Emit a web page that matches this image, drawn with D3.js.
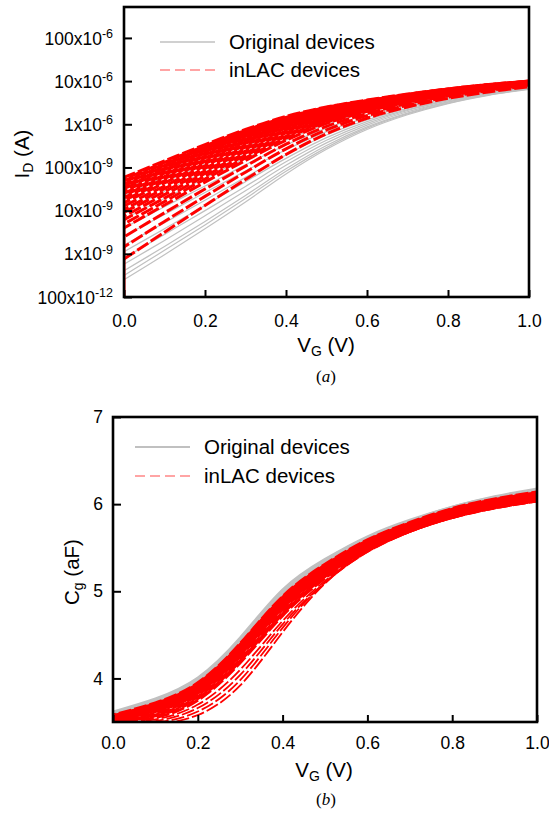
<!DOCTYPE html>
<html>
<head>
<meta charset="utf-8">
<script src="https://cdn.jsdelivr.net/npm/d3@7/dist/d3.min.js"></script>
<style>
  body { margin: 0; background: #fff; }
  text { font-family: "Liberation Sans", Arial, Helvetica, sans-serif; fill: #000; }
</style>
</head>
<body>
<svg id="fig" width="549" height="814"></svg>
<script>
// Gate-voltage sweep shared by every device trace
const vg = [0.0, 0.1, 0.2, 0.3, 0.4, 0.5, 0.6, 0.7, 0.8, 0.9, 1.0];

// (a) Drain current, stored as log10(I_D / A), one row per device
const idOriginalLog = [
  [-9.60, -9.02, -8.42, -7.80, -7.15, -6.58, -6.12, -5.78, -5.52, -5.33, -5.19],
  [-9.50, -8.92, -8.33, -7.72, -7.09, -6.54, -6.09, -5.76, -5.51, -5.32, -5.18],
  [-9.39, -8.83, -8.25, -7.65, -7.03, -6.49, -6.06, -5.74, -5.49, -5.31, -5.18],
  [-9.24, -8.69, -8.12, -7.54, -6.95, -6.43, -6.02, -5.71, -5.48, -5.30, -5.17],
  [-9.10, -8.55, -8.00, -7.44, -6.87, -6.37, -5.98, -5.68, -5.46, -5.29, -5.16],
  [-8.95, -8.42, -7.88, -7.33, -6.79, -6.31, -5.94, -5.66, -5.44, -5.28, -5.16],
  [-8.80, -8.28, -7.76, -7.23, -6.71, -6.25, -5.90, -5.63, -5.42, -5.27, -5.15],
  [-8.59, -8.09, -7.58, -7.08, -6.59, -6.17, -5.84, -5.59, -5.40, -5.25, -5.14],
  [-8.40, -7.91, -7.43, -6.94, -6.48, -6.09, -5.78, -5.55, -5.37, -5.23, -5.13],
  [-8.19, -7.72, -7.25, -6.79, -6.37, -6.00, -5.72, -5.51, -5.35, -5.22, -5.12],
  [-8.00, -7.55, -7.10, -6.66, -6.26, -5.93, -5.67, -5.48, -5.32, -5.20, -5.11],
  [-7.79, -7.35, -6.92, -6.51, -6.14, -5.84, -5.61, -5.44, -5.30, -5.18, -5.10],
  [-7.65, -7.22, -6.80, -6.40, -6.06, -5.78, -5.57, -5.41, -5.28, -5.17, -5.09],
  [-7.50, -7.08, -6.68, -6.30, -5.98, -5.72, -5.53, -5.38, -5.26, -5.16, -5.08]
];
const idInlacLog = [
  [-9.12, -8.50, -7.88, -7.28, -6.70, -6.22, -5.86, -5.60, -5.40, -5.25, -5.13],
  [-8.84, -8.25, -7.67, -7.11, -6.57, -6.13, -5.80, -5.56, -5.37, -5.22, -5.11],
  [-8.61, -8.05, -7.50, -6.97, -6.46, -6.05, -5.75, -5.52, -5.34, -5.20, -5.09],
  [-8.40, -7.87, -7.34, -6.84, -6.37, -5.98, -5.70, -5.49, -5.32, -5.19, -5.08],
  [-8.31, -7.79, -7.27, -6.78, -6.32, -5.95, -5.68, -5.47, -5.31, -5.18, -5.07],
  [-8.21, -7.71, -7.20, -6.72, -6.28, -5.92, -5.66, -5.46, -5.29, -5.17, -5.07],
  [-8.13, -7.63, -7.14, -6.67, -6.24, -5.89, -5.64, -5.44, -5.28, -5.16, -5.06],
  [-8.04, -7.56, -7.08, -6.62, -6.20, -5.87, -5.62, -5.43, -5.27, -5.15, -5.06],
  [-7.97, -7.49, -7.02, -6.57, -6.16, -5.84, -5.60, -5.42, -5.27, -5.15, -5.05],
  [-7.89, -7.43, -6.96, -6.53, -6.13, -5.82, -5.59, -5.41, -5.26, -5.14, -5.05],
  [-7.82, -7.36, -6.91, -6.48, -6.09, -5.79, -5.57, -5.39, -5.25, -5.13, -5.04],
  [-7.76, -7.31, -6.86, -6.44, -6.07, -5.77, -5.56, -5.38, -5.24, -5.13, -5.04],
  [-7.70, -7.26, -6.82, -6.41, -6.04, -5.76, -5.55, -5.38, -5.24, -5.12, -5.03],
  [-7.65, -7.21, -6.78, -6.38, -6.01, -5.74, -5.53, -5.37, -5.23, -5.12, -5.03],
  [-7.60, -7.17, -6.74, -6.35, -5.99, -5.72, -5.52, -5.36, -5.22, -5.11, -5.03],
  [-7.55, -7.13, -6.71, -6.32, -5.97, -5.71, -5.51, -5.35, -5.22, -5.11, -5.02],
  [-7.49, -7.08, -6.67, -6.28, -5.94, -5.69, -5.50, -5.34, -5.21, -5.10, -5.02],
  [-7.46, -7.05, -6.64, -6.26, -5.93, -5.67, -5.49, -5.34, -5.21, -5.10, -5.02],
  [-7.42, -7.02, -6.61, -6.24, -5.91, -5.66, -5.48, -5.33, -5.20, -5.10, -5.01],
  [-7.38, -6.98, -6.58, -6.21, -5.89, -5.65, -5.47, -5.32, -5.20, -5.09, -5.01],
  [-7.34, -6.95, -6.55, -6.19, -5.87, -5.64, -5.47, -5.32, -5.19, -5.09, -5.01],
  [-7.31, -6.92, -6.53, -6.17, -5.86, -5.62, -5.46, -5.31, -5.19, -5.09, -5.01],
  [-7.27, -6.88, -6.50, -6.14, -5.84, -5.61, -5.45, -5.31, -5.18, -5.08, -5.00],
  [-7.23, -6.85, -6.47, -6.12, -5.82, -5.60, -5.44, -5.30, -5.18, -5.08, -5.00]
];
const idFloor = 1e-10;   // current floor of the sweep at V_G = 0

// (b) Gate capacitance in aF, one row per device
const cgOriginal = [
  [3.58, 3.71, 3.93, 4.35, 4.89, 5.28, 5.57, 5.78, 5.94, 6.05, 6.14],
  [3.59, 3.72, 3.95, 4.37, 4.91, 5.30, 5.58, 5.79, 5.94, 6.06, 6.15],
  [3.59, 3.73, 3.96, 4.39, 4.93, 5.31, 5.59, 5.79, 5.95, 6.06, 6.15],
  [3.60, 3.74, 3.97, 4.41, 4.95, 5.32, 5.60, 5.80, 5.95, 6.07, 6.16],
  [3.60, 3.74, 3.98, 4.42, 4.96, 5.33, 5.61, 5.80, 5.96, 6.07, 6.16],
  [3.61, 3.75, 3.99, 4.44, 4.98, 5.35, 5.62, 5.81, 5.96, 6.08, 6.17],
  [3.61, 3.76, 4.00, 4.45, 5.00, 5.36, 5.62, 5.81, 5.97, 6.08, 6.17],
  [3.62, 3.77, 4.01, 4.47, 5.02, 5.37, 5.63, 5.82, 5.97, 6.09, 6.18]
];
const cgInlac = [
  [3.42, 3.47, 3.58, 3.92, 4.53, 5.09, 5.46, 5.69, 5.84, 5.95, 6.03],
  [3.45, 3.49, 3.62, 3.98, 4.58, 5.10, 5.45, 5.68, 5.84, 5.95, 6.03],
  [3.46, 3.51, 3.66, 4.04, 4.62, 5.10, 5.45, 5.68, 5.84, 5.96, 6.04],
  [3.48, 3.53, 3.70, 4.10, 4.66, 5.12, 5.46, 5.68, 5.85, 5.96, 6.04],
  [3.50, 3.55, 3.75, 4.18, 4.72, 5.15, 5.47, 5.69, 5.85, 5.96, 6.04],
  [3.51, 3.57, 3.77, 4.20, 4.74, 5.17, 5.48, 5.70, 5.86, 5.97, 6.05],
  [3.52, 3.58, 3.79, 4.22, 4.76, 5.18, 5.49, 5.71, 5.87, 5.98, 6.06],
  [3.52, 3.60, 3.81, 4.25, 4.79, 5.20, 5.51, 5.72, 5.88, 5.99, 6.07],
  [3.53, 3.62, 3.83, 4.27, 4.81, 5.21, 5.52, 5.73, 5.89, 6.00, 6.08],
  [3.54, 3.63, 3.84, 4.28, 4.82, 5.22, 5.52, 5.73, 5.89, 6.00, 6.08],
  [3.54, 3.64, 3.85, 4.29, 4.83, 5.23, 5.53, 5.74, 5.90, 6.01, 6.09],
  [3.55, 3.65, 3.87, 4.31, 4.85, 5.25, 5.54, 5.75, 5.91, 6.02, 6.10],
  [3.55, 3.66, 3.88, 4.32, 4.86, 5.25, 5.54, 5.75, 5.91, 6.02, 6.10],
  [3.56, 3.67, 3.89, 4.33, 4.87, 5.26, 5.55, 5.76, 5.92, 6.03, 6.11],
  [3.56, 3.68, 3.90, 4.35, 4.89, 5.27, 5.56, 5.76, 5.92, 6.03, 6.11],
  [3.56, 3.69, 3.91, 4.36, 4.90, 5.28, 5.57, 5.77, 5.93, 6.04, 6.12],
  [3.57, 3.70, 3.93, 4.38, 4.92, 5.29, 5.58, 5.78, 5.94, 6.05, 6.13],
  [3.57, 3.71, 3.94, 4.39, 4.93, 5.30, 5.58, 5.78, 5.94, 6.05, 6.13],
  [3.58, 3.72, 3.95, 4.40, 4.94, 5.31, 5.59, 5.79, 5.95, 6.06, 6.14]
];

// Axis ticks and labels
const vgTicks = [0, 0.2, 0.4, 0.6, 0.8, 1.0];
const idTicks = [1e-10, 1e-9, 1e-8, 1e-7, 1e-6, 1e-5, 1e-4];
const idTickMantissa = ["100x10", "1x10", "10x10", "100x10", "1x10", "10x10", "100x10"];
const idTickExponent = ["-12", "-9", "-9", "-9", "-6", "-6", "-6"];
const cgTicks = [4, 5, 6, 7];
const seriesNames = ["Original devices", "inLAC devices"];

const GRAY = "#c0c0c0";
const RED = "#ff0000";
const SERIF = "'Liberation Serif', 'Times New Roman', serif";

const svg = d3.select("#fig");

function frame(g, x, y) {
  const [x0, x1] = x.range();
  const [y0, y1] = y.range();
  g.append("rect")
    .attr("x", x0).attr("y", y1)
    .attr("width", x1 - x0).attr("height", y0 - y1)
    .attr("fill", "none").attr("stroke", "#000").attr("stroke-width", 2.6);
}

function xAxis(g, x, y, labelY) {
  const ax = d3.axisBottom(x).tickValues(vgTicks).tickSize(-7).tickSizeOuter(0)
    .tickPadding(0).tickFormat(d3.format(".1f"));
  const a = g.append("g").attr("transform", `translate(0,${y.range()[0]})`).call(ax);
  a.select(".domain").remove();
  a.selectAll(".tick line").attr("stroke", "#000").attr("stroke-width", 2);
  a.selectAll(".tick text").attr("font-size", 17.5).attr("dy", null)
    .attr("y", labelY - y.range()[0]).attr("fill", "#000");
}

function clipFor(id, x, y) {
  const [x0, x1] = x.range();
  const [y0, y1] = y.range();
  svg.append("defs").append("clipPath").attr("id", id)
    .append("rect").attr("x", x0).attr("y", y1).attr("width", x1 - x0).attr("height", y0 - y1);
}

function legend(g, x0, yLine1, yLine2, grayW) {
  g.append("line").attr("x1", x0).attr("x2", x0 + 55).attr("y1", yLine1).attr("y2", yLine1)
    .attr("stroke", GRAY).attr("stroke-width", grayW);
  g.append("line").attr("x1", x0).attr("x2", x0 + 55).attr("y1", yLine2).attr("y2", yLine2)
    .attr("stroke", "#ff4a4a").attr("stroke-width", 1.2).attr("stroke-dasharray", "10,5");
  g.append("text").attr("x", x0 + 69).attr("y", yLine1 + 7).attr("font-size", 20.5).text(seriesNames[0]);
  g.append("text").attr("x", x0 + 69).attr("y", yLine2 + 7).attr("font-size", 20.5).text(seriesNames[1]);
}

function italicTag(g, cx, y, letter) {
  const t = g.append("text").attr("x", cx).attr("y", y).attr("text-anchor", "middle")
    .style("font-family", SERIF).attr("font-size", 17);
  t.append("tspan").text("(");
  t.append("tspan").style("font-style", "italic").text(letter);
  t.append("tspan").text(")");
}

// ---------- (a) I_D - V_G, log scale ----------
{
  const x = d3.scaleLinear().domain([0, 1]).range([124, 529]);
  const y = d3.scaleLog().domain([1e-10, 5.2e-4]).range([297, 7]);
  const g = svg.append("g");
  clipFor("clipA", x, y);

  const line = d3.line()
    .x((d, i) => x(vg[i]))
    .y(d => y(Math.pow(10, d)))
    .curve(d3.curveCatmullRom.alpha(0.5));

  const plot = g.append("g").attr("clip-path", "url(#clipA)");
  plot.selectAll("path.orig").data(idOriginalLog).join("path")
    .attr("class", "orig").attr("d", line)
    .attr("fill", "none").attr("stroke", GRAY).attr("stroke-width", 1.2);
  plot.selectAll("path.inlac").data(idInlacLog).join("path")
    .attr("class", "inlac").attr("d", line)
    .attr("fill", "none").attr("stroke", RED).attr("stroke-width", 3)
    .attr("stroke-dasharray", "13,3")
    .attr("stroke-dashoffset", (d, i) => (i * 7) % 16);
  // inLAC sweeps rise from the floor at V_G = 0
  const topStart = d3.max(idInlacLog, r => r[0]);
  plot.append("line")
    .attr("x1", x(vg[0])).attr("x2", x(vg[0]))
    .attr("y1", y(idFloor)).attr("y2", y(Math.pow(10, topStart)))
    .attr("stroke", RED).attr("stroke-width", 3);

  frame(g, x, y);

  // y axis with inward ticks and power-of-ten labels
  const ay = d3.axisLeft(y).tickValues(idTicks).tickSize(-8).tickSizeOuter(0).tickPadding(0);
  const a = g.append("g").attr("transform", `translate(${x.range()[0]},0)`).call(ay);
  a.select(".domain").remove();
  a.selectAll(".tick line").attr("stroke", "#000").attr("stroke-width", 2);
  a.selectAll(".tick text").each(function (d, i) {
    const t = d3.select(this);
    t.text(null).attr("x", -11).attr("dy", "0.35em").attr("font-size", 17.5).attr("text-anchor", "end");
    t.append("tspan").text(idTickMantissa[i]);
    t.append("tspan").attr("dy", "-0.55em").attr("font-size", 12.5).text(idTickExponent[i]);
  });

  xAxis(g, x, y, 327);

  // axis titles
  const xt = g.append("text").attr("x", 326).attr("y", 352).attr("text-anchor", "middle").attr("font-size", 20.5);
  xt.append("tspan").text("V");
  xt.append("tspan").attr("font-size", 14).attr("dy", 4).text("G");
  xt.append("tspan").attr("dy", -4).text(" (V)");

  const yt = g.append("text").attr("transform", "translate(29,154) rotate(-90)")
    .attr("text-anchor", "middle").attr("font-size", 20.5);
  yt.append("tspan").text("I");
  yt.append("tspan").attr("font-size", 14).attr("dy", 4).text("D");
  yt.append("tspan").attr("dy", -4).text(" (A)");

  italicTag(g, 326, 382, "a");
  legend(g, 160, 42, 70, 1.3);
}

// ---------- (b) C_g - V_G ----------
{
  const x = d3.scaleLinear().domain([0, 1]).range([113, 537]);
  const y = d3.scaleLinear().domain([3.5, 7]).range([722, 417]);
  const g = svg.append("g");
  clipFor("clipB", x, y);

  const line = d3.line()
    .x((d, i) => x(vg[i]))
    .y(d => y(d))
    .curve(d3.curveNatural);

  const plot = g.append("g").attr("clip-path", "url(#clipB)");
  plot.selectAll("path.orig").data(cgOriginal).join("path")
    .attr("class", "orig").attr("d", line)
    .attr("fill", "none").attr("stroke", GRAY).attr("stroke-width", 2.2);
  plot.selectAll("path.inlac").data(cgInlac).join("path")
    .attr("class", "inlac").attr("d", line)
    .attr("fill", "none").attr("stroke", RED)
    .attr("stroke-width", (d, i) => i < 4 ? 1.8 : 3)
    .attr("stroke-dasharray", "13,3")
    .attr("stroke-dashoffset", (d, i) => (i * 5) % 16);

  frame(g, x, y);

  const ay = d3.axisLeft(y).tickValues(cgTicks).tickSize(-8).tickSizeOuter(0).tickPadding(0)
    .tickFormat(d3.format("d"));
  const a = g.append("g").attr("transform", `translate(${x.range()[0]},0)`).call(ay);
  a.select(".domain").remove();
  a.selectAll(".tick line").attr("stroke", "#000").attr("stroke-width", 2);
  a.selectAll(".tick text").attr("x", -10).attr("font-size", 17.5).attr("fill", "#000");

  xAxis(g, x, y, 749);

  const xt = g.append("text").attr("x", 324).attr("y", 777).attr("text-anchor", "middle").attr("font-size", 20.5);
  xt.append("tspan").text("V");
  xt.append("tspan").attr("font-size", 14).attr("dy", 4).text("G");
  xt.append("tspan").attr("dy", -4).text(" (V)");

  const yt = g.append("text").attr("transform", "translate(79,572) rotate(-90)")
    .attr("text-anchor", "middle").attr("font-size", 20.5);
  yt.append("tspan").text("C");
  yt.append("tspan").attr("font-size", 14).attr("dy", 4).text("g");
  yt.append("tspan").attr("dy", -4).text(" (aF)");

  italicTag(g, 326, 805, "b");
  legend(g, 135, 447, 476, 2);
}
</script>
</body>
</html>
